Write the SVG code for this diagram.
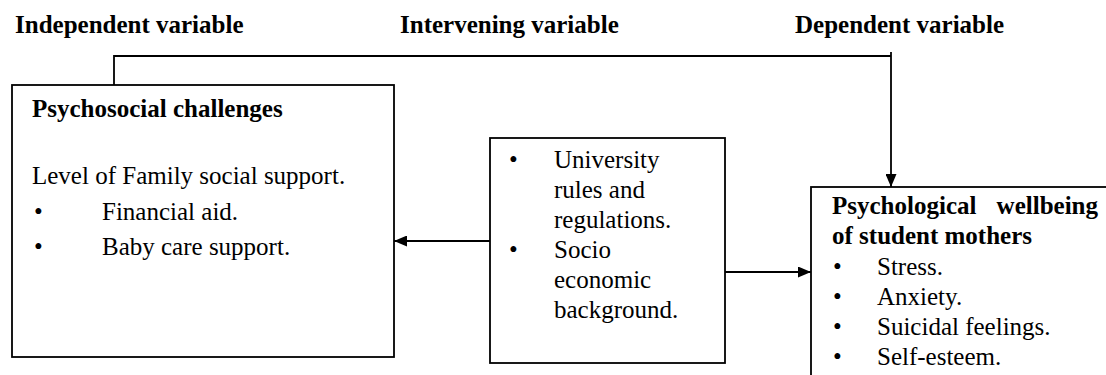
<svg xmlns="http://www.w3.org/2000/svg" width="1106" height="375" viewBox="0 0 1106 375">
<style>
  text { font-family: "Liberation Serif", "Times New Roman", serif; font-size: 25px; fill: #000; }
  .b { font-weight: bold; }
  .box { fill: #fff; stroke: #000; stroke-width: 1.8; }
  .conn { fill: none; stroke: #000; stroke-width: 1.8; }
</style>
<defs>
  <marker id="arr" viewBox="0 0 13 11" refX="13" refY="5.5" markerWidth="13" markerHeight="11" markerUnits="userSpaceOnUse" orient="auto">
    <path d="M0,0 L13,5.5 L0,11 z" fill="#000"/>
  </marker>
</defs>
<rect width="1106" height="375" fill="#fff"/>
<g id="headers">
  <text class="b" x="15" y="33">Independent variable</text>
  <text class="b" x="400" y="33">Intervening variable</text>
  <text class="b" x="795" y="33">Dependent variable</text>
</g>
<g id="node-psychosocial">
  <rect class="box" x="12" y="85" width="382" height="272"/>
  <text class="b" x="32" y="117">Psychosocial challenges</text>
  <text x="32" y="184">Level of Family social support.</text>
  <text x="34" y="220">•</text>
  <text x="102" y="220">Financial aid.</text>
  <text x="34" y="255">•</text>
  <text x="102" y="255">Baby care support.</text>
</g>
<g id="node-intervening">
  <rect class="box" x="490" y="138" width="235" height="225"/>
  <text x="509" y="168">•</text>
  <text x="554" y="168">University</text>
  <text x="554" y="198">rules and</text>
  <text x="554" y="228">regulations.</text>
  <text x="509" y="258">•</text>
  <text x="554" y="258">Socio</text>
  <text x="554" y="288">economic</text>
  <text x="554" y="318">background.</text>
</g>
<g id="node-wellbeing">
  <rect class="box" x="811" y="187" width="310" height="200"/>
  <text class="b" x="832" y="214">Psychological</text>
  <text class="b" x="1098" y="214" text-anchor="end">wellbeing</text>
  <text class="b" x="832" y="244">of student mothers</text>
  <text x="833" y="275">•</text>
  <text x="877" y="275">Stress.</text>
  <text x="833" y="305">•</text>
  <text x="877" y="305">Anxiety.</text>
  <text x="833" y="335">•</text>
  <text x="877" y="335">Suicidal feelings.</text>
  <text x="833" y="365">•</text>
  <text x="877" y="365">Self-esteem.</text>
</g>
<g id="connectors">
  <path class="conn" d="M114,85 V56 H891"/>
  <path class="conn" d="M891,52 V187" marker-end="url(#arr)"/>
  <path class="conn" d="M490,241 H394" marker-end="url(#arr)"/>
  <path class="conn" d="M725,272 H811" marker-end="url(#arr)"/>
</g>
</svg>
